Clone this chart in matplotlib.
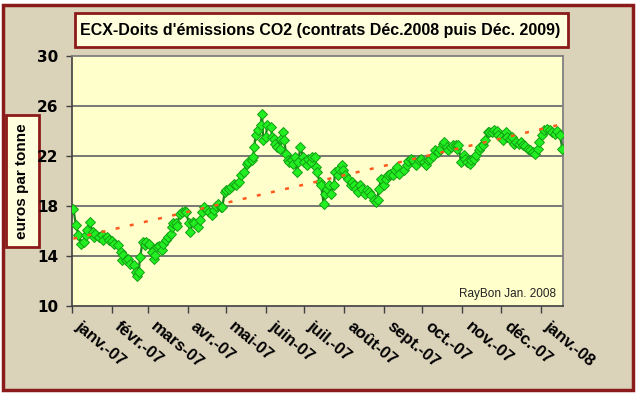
import numpy as np
import matplotlib
matplotlib.use("Agg")
import matplotlib.pyplot as plt
import matplotlib.dates as mdates
import matplotlib.transforms as mtransforms
from matplotlib.patches import Rectangle
from matplotlib.ticker import FixedLocator

# ---- data: days since 2007-01-01 and price (EUR / tonne) ----
days = [1, 3, 5, 7, 9, 11, 12, 14, 16, 17, 18, 21, 23, 24, 27, 29, 31, 33, 36, 38,
        39, 40, 42, 44, 45, 48, 50, 51, 52, 53, 55, 57, 58, 60, 62, 64, 65, 66, 68, 70,
        71, 73, 75, 77, 78, 79, 81, 82, 84, 86, 88, 89, 91, 92, 94, 95, 98, 100, 101, 103,
        105, 107, 109, 111, 112, 114, 116, 117, 119, 120,
        122, 124, 126, 128, 130, 132, 134, 136, 137, 140, 141, 142, 143, 145, 147, 148,
        149, 151, 152, 155, 156, 157, 158, 160, 162, 163, 164, 165, 167, 168, 169, 171,
        172, 174, 175, 176, 178, 180, 181, 183, 184, 186, 187, 189, 190, 191, 193, 194,
        196, 197, 199, 200, 202, 204, 205, 207, 208, 210, 211, 213, 215, 217, 218, 220,
        221, 223, 224, 226, 228, 230, 231, 233, 235, 237, 238, 239, 241, 243, 245, 246,
        248, 250, 252, 253,
        255, 259, 261, 262, 264, 266, 268, 270, 272, 274, 276, 277, 279, 281, 283, 285,
        287, 289, 290, 292, 293, 295, 297, 299, 300, 301, 303, 305, 306, 308, 310, 311,
        313, 315, 317, 318, 320, 322, 324, 325, 327, 329, 331, 332, 334, 336, 338, 339,
        341, 343, 344, 346, 348, 350, 351, 353, 355, 357, 359, 361, 363, 364, 366, 368,
        370, 372, 374, 376, 378, 380, 382]
prices = [17.8, 16.5, 15.7, 15.0, 15.1, 15.7, 16.1, 16.7, 15.9, 15.5, 15.8, 15.5, 15.7, 15.3, 15.5, 15.3, 15.2, 15.0, 14.9, 14.3,
          13.7, 14.1, 13.7, 13.8, 13.4, 13.3, 12.7, 12.4, 12.7, 13.9, 15.1, 14.9, 15.1, 15.0, 14.3, 13.8, 14.1, 14.7, 14.8, 14.5,
          15.0, 15.3, 15.5, 15.8, 16.3, 16.6, 16.6, 16.4, 17.4, 17.5, 17.6, 17.5, 16.6, 15.9, 16.7, 16.6, 16.3, 16.9, 17.5, 17.9,
          17.7, 17.5, 17.3, 17.7, 18.0, 18.2, 17.9, 17.9, 19.1, 19.3,
          19.4, 19.5, 19.8, 19.7, 19.9, 20.5, 20.7, 21.4, 21.5, 21.7, 21.9, 22.7, 23.7, 24.1, 24.5, 25.4,
          23.3, 23.5, 24.5, 24.3, 23.5, 23.4, 23.0, 22.7, 22.6, 23.4, 23.9, 23.3, 22.2, 21.7, 21.5, 21.7,
          21.4, 21.9, 20.7, 21.5, 22.7, 21.9, 21.5, 21.3, 21.8, 21.5, 21.9, 21.9, 21.1, 20.7, 19.9, 19.7,
          18.2, 19.0, 19.4, 19.7, 19.0, 19.7, 20.7, 20.5, 21.0, 21.3, 20.9, 20.5, 20.2, 19.7, 19.9, 19.7,
          19.4, 19.1, 19.7, 19.4, 19.0, 19.3, 19.1, 18.9, 18.5, 18.3, 18.5, 19.4, 20.2, 19.7, 20.2, 20.5,
          20.6, 20.5, 20.9, 21.1,
          20.6, 20.9, 21.3, 21.6, 21.8, 21.7, 21.3, 21.7, 21.8, 21.5, 21.3, 21.7, 21.8, 22.0, 22.5, 22.3,
          22.6, 23.0, 23.1, 22.7, 22.5, 22.7, 22.9, 22.9, 22.6, 22.9, 21.5, 22.1, 21.8, 21.5, 21.4, 21.7,
          21.8, 22.1, 22.5, 22.7, 22.9, 23.3, 23.9, 23.9, 23.9, 24.1, 24.0, 23.7, 23.5, 23.3, 23.9, 23.5,
          23.4, 23.5, 23.0, 23.1, 23.0, 23.1, 22.9, 22.8, 22.6, 22.5, 22.3, 22.2, 22.6, 23.1, 23.7, 24.1,
          24.2, 24.1, 23.9, 23.8, 24.0, 23.7, 22.6]
month_labels = ['janv.-07', 'févr.-07', 'mars-07', 'avr.-07', 'mai-07', 'juin-07', 'juil.-07',
                'août-07', 'sept.-07', 'oct.-07', 'nov.-07', 'déc.-07', 'janv.-08']
y_ticks = [10, 14, 18, 22, 26, 30]
title = "ECX-Doits d'émissions CO2 (contrats Déc.2008 puis Déc. 2009)"
ylabel = "euros par tonne"
credit = "RayBon Jan. 2008"

start = np.datetime64('2007-01-01')
dates = start + np.array(days).astype('timedelta64[D]')
xnum = mdates.date2num(dates)
month_starts = mdates.date2num(np.arange(np.datetime64('2007-01'), np.datetime64('2008-02'),
                                         np.timedelta64(1, 'M')).astype('datetime64[D]'))

# linear trend (Excel-like)
coef = np.polyfit(xnum, prices, 1)
x_end = mdates.date2num(start + np.timedelta64(382, 'D'))
x0 = xnum[0]
trend_x = np.array([x0, x_end + 0.5])
trend_y = np.polyval(coef, trend_x)

W, H = 640, 396
fig = plt.figure(figsize=(W / 100, H / 100), dpi=100, facecolor='white')
DARKRED = '#8B1A1A'
TAN = '#DBD2BA'

# outer frame
fig.patches.append(Rectangle((3 / W, 1 - 390 / H), 630 / W, 385 / H, transform=fig.transFigure,
                             facecolor=TAN, edgecolor=DARKRED, lw=2.5, zorder=-5))

# y label box (below the axes layer)
fig.patches.append(Rectangle((6 / W, 1 - 247 / H), 33 / W, 132 / H, transform=fig.transFigure,
                             facecolor='#FFFFDD', edgecolor=DARKRED, lw=2, zorder=-2))
fig.text(22.5 / W, 1 - 181 / H, ylabel, ha='center', va='center', rotation=90, fontsize=11,
         fontweight='bold', family='Liberation Sans', zorder=-1)

ax = fig.add_axes([72 / W, 1 - 306 / H, (563 - 72) / W, 250 / H])
ax.set_zorder(1)
ax.set_facecolor('#FFFFCC')
ax.set_ylim(10, 30)
ax.set_xlim(mdates.date2num(start), x_end + 0.5)
ax.yaxis.set_major_locator(FixedLocator(y_ticks))
ax.set_yticklabels([str(v) for v in y_ticks], fontsize=11, fontweight='bold', family='DejaVu Sans')
for v in y_ticks[1:-1]:
    ax.axhline(v, color='#6E6E6E', lw=1.3, zorder=1)
ax.xaxis.set_major_locator(FixedLocator(month_starts))
ax.set_xticklabels([])
ax.tick_params(axis='x', direction='out', length=5, width=1, color='#404040')
ax.tick_params(axis='y', direction='out', length=4, width=1, color='#404040', pad=6)
for s in ['left', 'bottom']:
    ax.spines[s].set_color('#404040')
    ax.spines[s].set_linewidth(1.2)
for s in ['top', 'right']:
    ax.spines[s].set_color('#808080')
    ax.spines[s].set_linewidth(1.3)

# rotated month labels
xlab_tr = mtransforms.blended_transform_factory(ax.transData, ax.transAxes) + \
    mtransforms.ScaledTranslation(6 / 100, -17 / 100, fig.dpi_scale_trans)
for xm, lab in zip(month_starts, month_labels):
    ax.text(xm, 0, lab, transform=xlab_tr, rotation=-40, rotation_mode='anchor',
            ha='left', va='center_baseline', fontsize=12, fontweight='bold',
            family='Liberation Sans', clip_on=False)

ax.plot(xnum, prices, color='#1E7F1E', lw=1.6, marker='D', markersize=5,
        markerfacecolor='#22EE22', markeredgecolor='#14A014', markeredgewidth=0.7, zorder=3)
ax.plot(trend_x, trend_y, color='#FF5A1E', lw=1.8, linestyle=(0, (1.6, 4.2)), zorder=4)

ax.text(0.985, 0.025, credit, transform=ax.transAxes, ha='right', va='bottom',
        fontsize=8.5, family='Liberation Sans', color='#222222')

# title box
fig.patches.append(Rectangle((75 / W, 1 - 47 / H), 493 / W, 34 / H, transform=fig.transFigure,
                             facecolor='#FFFFDD', edgecolor=DARKRED, lw=2, zorder=2))
fig.text(320 / W, 1 - 30 / H, title, ha='center', va='center', fontsize=11.5,
         fontweight='bold', family='Liberation Sans', zorder=3)

fig.savefig('out.png', dpi=100, facecolor=fig.get_facecolor())
